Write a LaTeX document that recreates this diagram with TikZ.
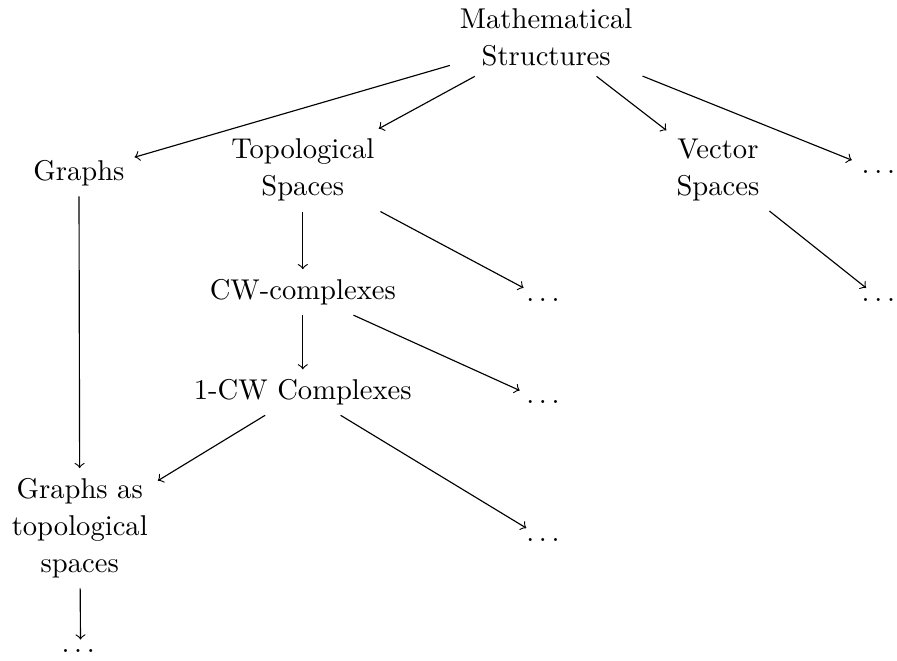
\documentclass[tikz,border=0pt]{standalone}
\usepackage{amsmath}
\begin{document}
\begin{tikzpicture}[concept/.style={align=center, font={\fontsize{10}{13}\selectfont}}, link/.style={->}]
  \useasboundingbox (0,0) rectangle (11.02,-8.12);
  % Root
  \node[concept] (math) at (6.71,-0.46) {Mathematical\\Structures};

  % First level
  \node[concept] (graphs) at (0.97,-2.13) {Graphs};
  \node[concept] (top) at (3.72,-2.09) {Topological\\Spaces};
  \node[concept] (vect) at (8.82,-2.09) {Vector\\Spaces};
  \node (moreA) at (10.82,-2.11) {$\dots$};

  % Below topological and vector spaces
  \node[concept] (cw) at (3.72,-3.59) {CW-complexes};
  \node (moreB) at (6.70,-3.68) {$\dots$};
  \node (moreC) at (10.82,-3.68) {$\dots$};
  \node[concept] (onecw) at (3.72,-4.82) {1-CW Complexes};
  \node (moreD) at (6.70,-4.94) {$\dots$};

  % Graphs again
  \node[concept] (gtop) at (0.98,-6.49) {Graphs as\\topological\\spaces};
  \node (moreE) at (6.70,-6.63) {$\dots$};
  \node (moreF) at (0.99,-8.0) {$\dots$};

  \draw[link] (math) -- (graphs);
  \draw[link] (math) -- (top);
  \draw[link] (math) -- (vect);
  \draw[link] (math) -- (moreA);
  \draw[link] (graphs) -- (gtop);
  \draw[link] (top) -- (cw);
  \draw[link] (top) -- (moreB);
  \draw[link] (vect) -- (moreC);
  \draw[link] (cw) -- (onecw);
  \draw[link] (cw) -- (moreD);
  \draw[link] (onecw) -- (gtop);
  \draw[link] (onecw) -- (moreE);
  \draw[link] (gtop) -- (moreF);
\end{tikzpicture}
\end{document}
